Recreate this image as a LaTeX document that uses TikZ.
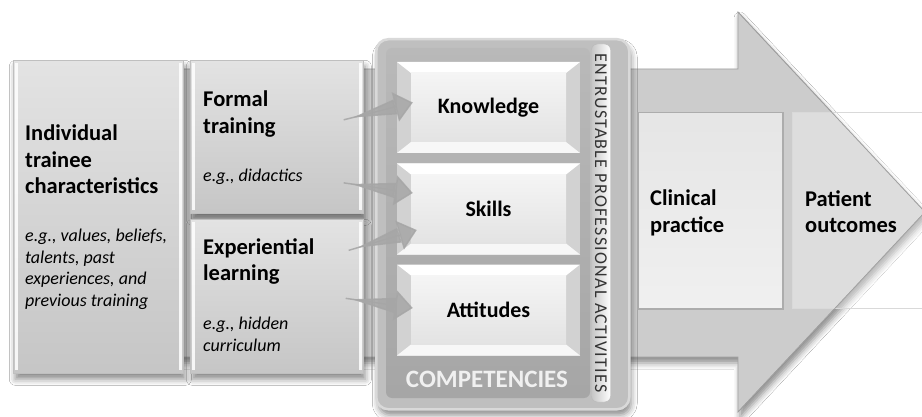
\documentclass[tikz,border=0pt]{standalone}
\usepackage{fontspec}
\setmainfont{Carlito}
\usetikzlibrary{positioning,calc,shadows.blur,arrows.meta}

\tikzset{
  soft/.style={blur shadow={shadow xshift=2pt,shadow yshift=-6pt,shadow blur radius=6pt,shadow opacity=45}},
  panel/.style={draw=gray!50,line width=0.7pt,top color=gray!22,bottom color=gray!45,
    inner sep=0pt,anchor=north west,soft,
    path picture={
      \draw[white,line width=2.5pt,opacity=0.85]
        ([shift={(3pt,-3pt)}]path picture bounding box.north west) -- ([shift={(3pt,3pt)}]path picture bounding box.south west)
        ([shift={(-3pt,-3pt)}]path picture bounding box.north east) -- ([shift={(-3pt,3pt)}]path picture bounding box.south east);
    }},
  hd/.style={font=\fontsize{22.5}{26.5}\selectfont\bfseries,align=left,anchor=north west,inner sep=0pt},
  eg/.style={font=\fontsize{18}{21.5}\selectfont\itshape,align=left,anchor=north west,inner sep=0pt},
  comp/.style={fill=gray!35,inner sep=0pt,minimum width=183pt,minimum height=91pt,
    font=\fontsize{22}{24}\selectfont\bfseries,
    path picture={
      \fill[white] (path picture bounding box.north west) -- (path picture bounding box.north east)
        -- ++(-14pt,-11pt) -| ([shift={(14pt,-11pt)}]path picture bounding box.north west) -- cycle;
      \fill[gray!6] (path picture bounding box.south west) -- (path picture bounding box.south east)
        -- ++(-14pt,11pt) -| ([shift={(14pt,11pt)}]path picture bounding box.south west) -- cycle;
      \shade[top color=gray!8,bottom color=gray!22]
        ([shift={(14pt,-11pt)}]path picture bounding box.north west)
        rectangle ([shift={(-14pt,11pt)}]path picture bounding box.south east);
    }},
  feed/.style={draw=gray!70,fill=gray!70,opacity=0.85,line width=1.5pt,
    -{Triangle[reversed,length=44pt,width=15pt,sep=0pt]Triangle[length=18pt,width=30pt]}}
}

\begin{document}
\begin{tikzpicture}[x=1pt,y=-1pt]
\useasboundingbox[fill=white] (0,0) rectangle (922,417);

% big arrow
\path[fill=gray!40,draw=gray!75,line width=0.7pt,soft]
  (40,69) -- (738,69) -- (738,12) -- (925,212) -- (738,412) -- (738,357) -- (40,357) -- cycle;

% left boxes
\node[panel,minimum width=170pt,minimum height=313pt] (indiv) at (13,60) {};
\node[panel,minimum width=173pt,minimum height=153pt] (formal) at (190,60) {};
\node[panel,minimum width=173pt,minimum height=154pt] (exper) at (190,219) {};

\node[hd] (indivhd) at (25,125) {Individual\\trainee\\characteristics};
\node[eg] (indiveg) at (25,229) {e.g., values, beliefs,\\talents, past\\experiences, and\\previous training};
\node[hd] (formalhd) at (203,91) {Formal\\training};
\node[eg] (formaleg) at (203,169) {e.g., didactics};
\node[hd] (experhd) at (203,238) {Experiential\\learning};
\node[eg] (expereg) at (203,317) {e.g., hidden\\curriculum};

% competencies frame
\node[draw=gray!30,line width=2.5pt,fill=gray!50,rounded corners=12pt,inner sep=0pt,anchor=north west,
  minimum width=253pt,minimum height=370pt,soft] (frame) at (375,38) {};
\shade[top color=gray!55,bottom color=gray!70,rounded corners=6pt] (386,48) rectangle (590,398);
\node[comp] (know) at (488.5,107.5) {Knowledge};
\node[comp] (skills) at (488.5,209) {Skills};
\node[comp] (attit) at (488.5,310) {Attitudes};
\node[text=gray!12,font=\fontsize{25}{27}\selectfont\bfseries] (comptxt) at (487,379) {COMPETENCIES};

% EPA strip
\node[draw=gray!55,left color=gray!45,right color=white,rounded corners=6pt,inner sep=0pt,
  minimum width=19pt,minimum height=358pt] (epa) at (601,223) {};
\node[rotate=-90,text=black!80,inner sep=0pt,
  font=\fontsize{18}{20}\selectfont\addfontfeature{LetterSpace=7}] (epatxt) at (epa.center)
  {ENTRUSTABLE PROFESSIONAL ACTIVITIES};

% outcome boxes
\node[draw=gray!65,line width=1.5pt,top color=gray!20,bottom color=gray!12,inner sep=0pt,anchor=north west,
  minimum width=145pt,minimum height=196pt] (clin) at (637,112) {};
\node[draw=gray!30,line width=0.8pt,fill=white,fill opacity=0.35,inner sep=0pt,anchor=north west,
  minimum width=140pt,minimum height=196pt] (patient) at (792,112) {};
\draw[gray!75,line width=0.7pt] (738,12) -- (925,212) -- (738,412);
\node[hd] (clintxt) at (650,190) {Clinical\\practice};
\node[hd] (patienttxt) at (805,190) {Patient\\outcomes};

% arrows into competencies
\draw[feed] ($(formal.east)+(-20,-17)$) -- ($(know.west)+(16,-5)$);
\draw[feed] ($(formal.east)+(-20,46)$) -- ($(skills.west)+(16,-16)$);
\draw[feed] ($(exper.east)+(-15,-46)$) -- ($(skills.west)+(20,21)$);
\draw[feed] ($(exper.east)+(-18,2)$) -- ($(attit.west)+(16,-2)$);
\end{tikzpicture}
\end{document}
